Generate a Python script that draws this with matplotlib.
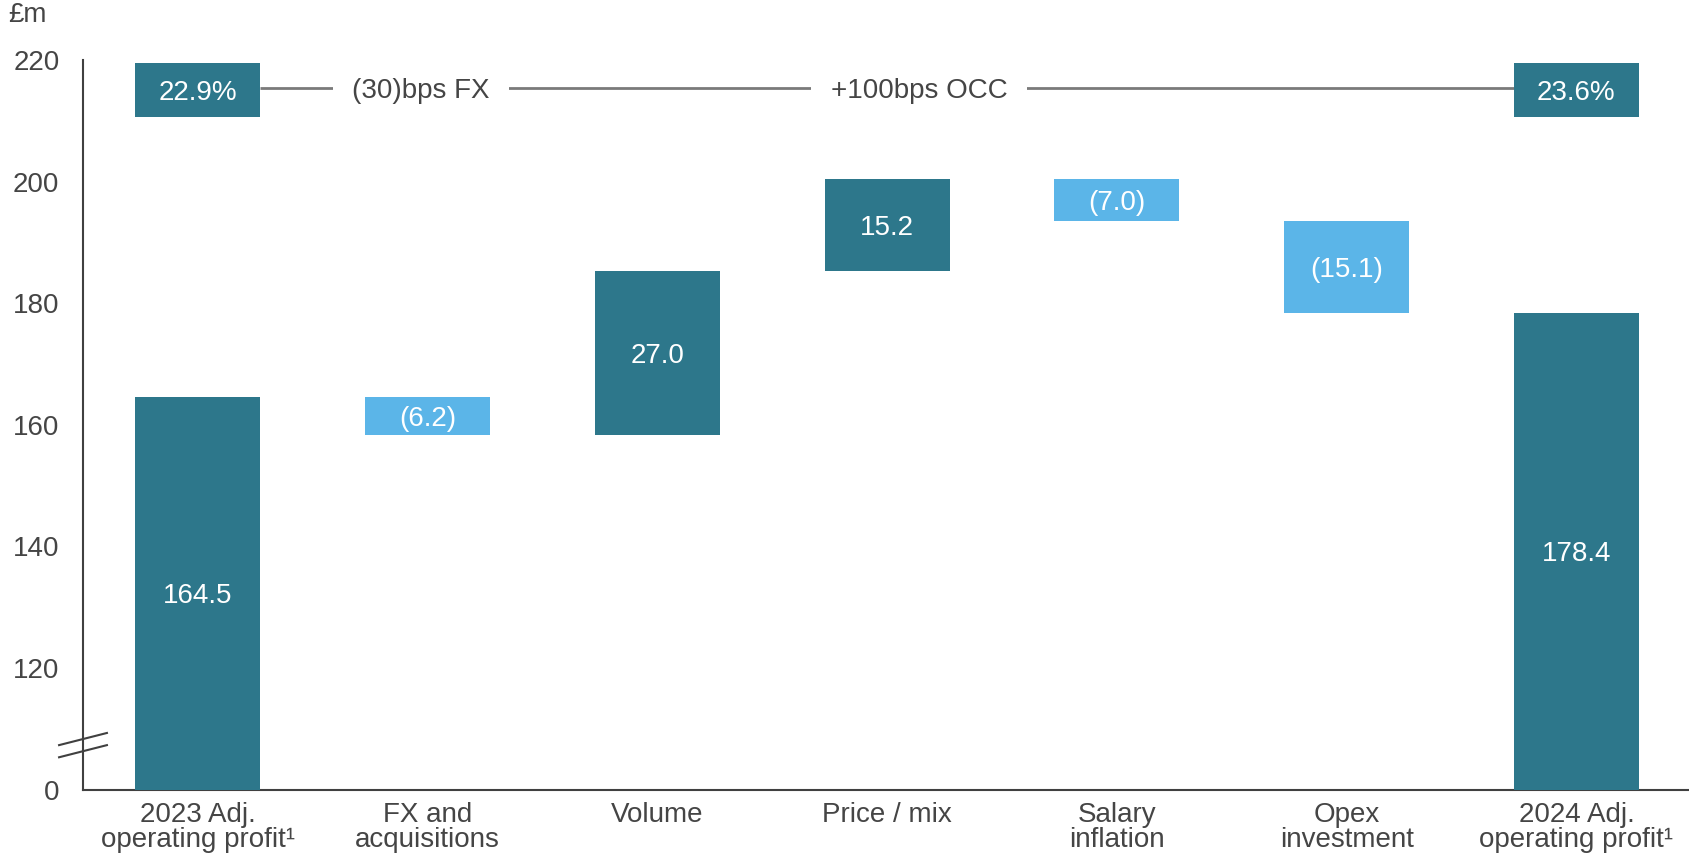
import matplotlib
matplotlib.use("Agg")
import matplotlib.pyplot as plt

plt.rcParams['font.family'] = ['Liberation Sans', 'DejaVu Sans']

categories = ["2023 Adj.\noperating profit¹", "FX and\nacquisitions", "Volume",
              "Price / mix", "Salary\ninflation", "Opex\ninvestment",
              "2024 Adj.\noperating profit¹"]
changes = [164.5, -6.2, 27.0, 15.2, -7.0, -15.1, 178.4]
kinds = ["total", "delta", "delta", "delta", "delta", "delta", "total"]
value_labels = ["164.5", "(6.2)", "27.0", "15.2", "(7.0)", "(15.1)", "178.4"]
margin_labels = ["22.9%", "23.6%"]
bridge_labels = ["(30)bps FX", "+100bps OCC"]
bridge_label_x = [0.97, 3.14]
yticks = [100, 120, 140, 160, 180, 200, 220]
ytick_labels = ["0", "120", "140", "160", "180", "200", "220"]

DARK = "#2D778B"
LIGHT = "#5BB5E8"
AXC = "#404040"
TXT = "#454545"
FS = 20

fig = plt.figure(figsize=(16.89, 8.56), dpi=100)
ax = fig.add_axes([83 / 1689, 1 - 789.5 / 856, 1 - 83 / 1689, (789.5 - 60) / 856])
BASE = 100  # axis broken: displayed "0" sits at 100
width = 0.544

running = 0
for i, (c, k) in enumerate(zip(changes, kinds)):
    if k == "total":
        bottom, top = BASE, c
        running = c
        color = DARK
    else:
        start = running
        running = running + c
        bottom, top = min(start, running), max(start, running)
        color = DARK if c > 0 else LIGHT
    ax.bar(i, top - bottom, bottom=bottom, width=width, color=color, zorder=3)
    ax.text(i, (top + bottom) / 2, value_labels[i], ha="center", va="center_baseline",
            color="white", fontsize=FS, zorder=4)

# margin boxes and bridge line
box_lo, box_hi = 210.7, 219.5
line_y = 215.4
for xi, lab in zip([0, len(changes) - 1], margin_labels):
    ax.bar(xi, box_hi - box_lo, bottom=box_lo, width=width, color=DARK, zorder=3)
    ax.text(xi, (box_lo + box_hi) / 2, lab, ha="center", va="center_baseline",
            color="white", fontsize=FS, zorder=4)
ax.plot([0 + width / 2, len(changes) - 1 - width / 2], [line_y, line_y],
        color="#7a7a7a", lw=2.0, zorder=2, solid_capstyle="butt")
for x, lab in zip(bridge_label_x, bridge_labels):
    ax.text(x, line_y, lab, ha="center", va="center_baseline", color=TXT, fontsize=FS,
            zorder=3, bbox=dict(facecolor="white", edgecolor="none", pad=14))

ax.set_xlim(-0.5, 6.49)
ax.set_ylim(100, 220)
ax.set_yticks(yticks)
ax.set_yticklabels(ytick_labels)
ax.set_xticks(range(len(categories)))
ax.set_xticklabels(categories, linespacing=0.95)
ax.tick_params(axis="both", length=0, labelsize=FS, colors=TXT)
ax.tick_params(axis="y", pad=17)
ax.tick_params(axis="x", pad=9)
for s in ["top", "right"]:
    ax.spines[s].set_visible(False)
for s in ["left", "bottom"]:
    ax.spines[s].set_color(AXC)
    ax.spines[s].set_linewidth(1.5)

# axis break marks
tr = ax.get_yaxis_transform()
for y0 in [105.3, 107.3]:
    ax.plot([-0.0149, 0.0149], [y0, y0 + 2.0], transform=tr, color=AXC,
            lw=1.5, clip_on=False, zorder=5)

fig.text(8 / 1689, 1 - 15 / 856, "£m", ha="left", va="center", fontsize=FS, color=TXT)

fig.savefig("out.png", dpi=100)
